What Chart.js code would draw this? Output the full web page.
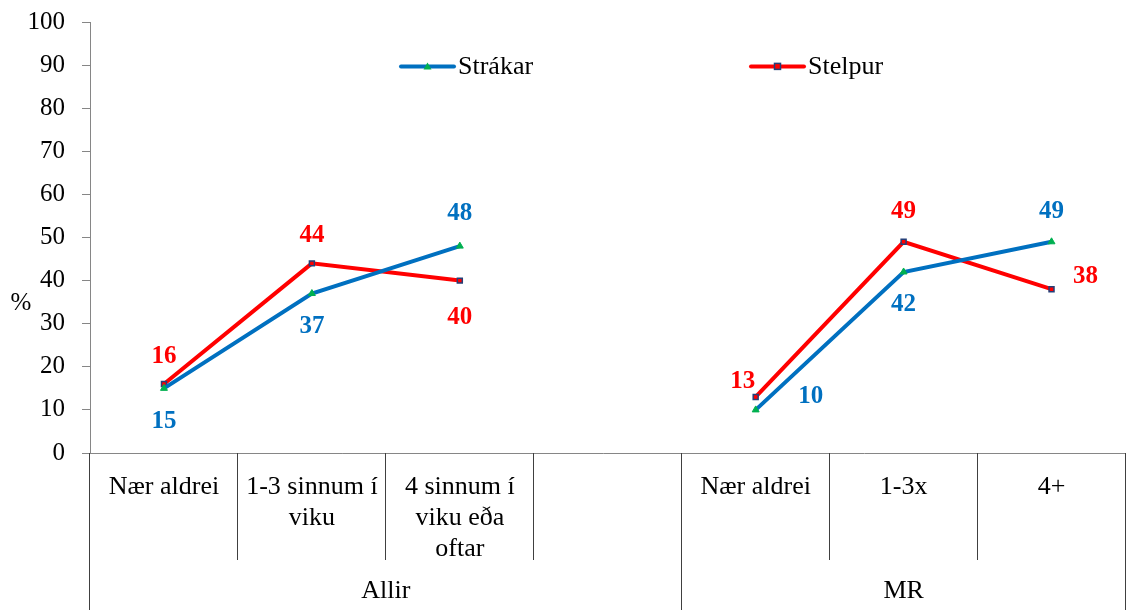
<!DOCTYPE html>
<html>
<head>
<meta charset="utf-8">
<script src="https://cdn.jsdelivr.net/npm/chart.js@4.4.1/dist/chart.umd.min.js"></script>
<style>
  html, body { margin: 0; padding: 0; background: #fff; overflow: hidden; }
  #wrap { width: 1127px; height: 610px; position: relative; overflow: hidden; }
  #c { display: block; }
</style>
</head>
<body>
<div id="wrap"><canvas id="c" width="1131" height="610"></canvas></div>
<script>
// Category labels (one entry per line of text under the axis)
const categories = [
  ['Nær aldrei'],
  ['1-3 sinnum í', 'viku'],
  ['4 sinnum í', 'viku eða', 'oftar'],
  [''],
  ['Nær aldrei'],
  ['1-3x'],
  ['4+']
];
// Outer grouping of the categories: [label, first index, last index]
const groups = [
  ['Allir', 0, 3],
  ['MR', 4, 6]
];
const yTicks = [0, 10, 20, 30, 40, 50, 60, 70, 80, 90, 100];

// Percentages per series (null = no value, breaks the line)
const strakar = [15, 37, 48, null, 10, 42, 49];
const stelpur = [16, 44, 40, null, 13, 49, 38];

// Where each value label sits relative to its point [dx, dy]
const strakarLabelOffset = [[0, 33], [0, 33], [0, -33], null, [55, -13], [0, 33], [0, -30]];
const stelpurLabelOffset = [[0, -27], [0, -28], [0, 37], null, [-13, -15], [0, -30], [34, -13]];

const SERIF = '"Liberation Serif", "Times New Roman", serif';
const BLUE = '#0070C0';
const RED = '#FF0000';
const GREEN = '#00B050';
const NAVY = '#243F78';
const VISIBLE_WIDTH = 1127;

const valueLabels = {
  id: 'valueLabels',
  afterDatasetsDraw(chart) {
    const ctx = chart.ctx;
    ctx.save();
    ctx.font = 'bold 25px ' + SERIF;
    ctx.textAlign = 'center';
    ctx.textBaseline = 'middle';
    chart.data.datasets.forEach((ds, di) => {
      const meta = chart.getDatasetMeta(di);
      meta.data.forEach((pt, i) => {
        const v = ds.data[i];
        if (v == null) return;
        const off = ds.labelOffset[i];
        ctx.fillStyle = ds.borderColor;
        ctx.fillText(String(v), pt.x + off[0], pt.y + off[1]);
      });
    });
    ctx.restore();
  }
};

const axisTable = {
  id: 'axisTable',
  afterDraw(chart) {
    const ctx = chart.ctx;
    const x = chart.scales.x;
    const area = chart.chartArea;
    const n = categories.length;
    const w = (area.right - area.left) / n;
    const bottom = area.bottom;
    const innerEnd = bottom + 107;
    const outerEnd = chart.height;
    const groupEdges = new Set();
    groups.forEach(g => { groupEdges.add(g[1]); groupEdges.add(g[2] + 1); });

    ctx.save();
    // horizontal axis line
    ctx.strokeStyle = '#868686';
    ctx.lineWidth = 1;
    ctx.beginPath();
    ctx.moveTo(area.left - 8, bottom + 0.5);
    ctx.lineTo(area.right, bottom + 0.5);
    ctx.stroke();

    // separators between categories
    ctx.strokeStyle = '#404040';
    for (let i = 0; i <= n; i++) {
      const px = Math.min(Math.round(area.left + i * w) - 0.5, VISIBLE_WIDTH - 1.5);
      ctx.beginPath();
      ctx.moveTo(px, bottom);
      ctx.lineTo(px, groupEdges.has(i) ? outerEnd : innerEnd);
      ctx.stroke();
    }

    // category labels
    ctx.fillStyle = '#000';
    ctx.font = '26px ' + SERIF;
    ctx.textAlign = 'center';
    ctx.textBaseline = 'middle';
    categories.forEach((lines, i) => {
      const cx = x.getPixelForValue(i);
      lines.forEach((t, li) => ctx.fillText(t, cx, bottom + 34 + li * 31));
    });

    // group labels
    groups.forEach(g => {
      const gx = (area.left + g[1] * w + area.left + (g[2] + 1) * w) / 2;
      ctx.fillText(g[0], gx, bottom + 138);
    });

    // y-axis unit
    ctx.font = '25px ' + SERIF;
    ctx.fillText('%', 21, chart.scales.y.getPixelForValue(34.8));

    // legend
    ctx.font = '26px ' + SERIF;
    ctx.textAlign = 'left';
    const legendY = chart.scales.y.getPixelForValue(89.7);
    const items = [
      { text: 'Strákar', color: BLUE, x0: 401 },
      { text: 'Stelpur', color: RED, x0: 751 }
    ];
    items.forEach((it, k) => {
      ctx.strokeStyle = it.color;
      ctx.lineWidth = 4;
      ctx.lineCap = 'round';
      ctx.beginPath();
      ctx.moveTo(it.x0, legendY);
      ctx.lineTo(it.x0 + 53, legendY);
      ctx.stroke();
      const mx = it.x0 + 26.5;
      if (k === 0) {
        ctx.fillStyle = GREEN;
        ctx.beginPath();
        ctx.moveTo(mx, legendY - 4);
        ctx.lineTo(mx + 4, legendY + 3);
        ctx.lineTo(mx - 4, legendY + 3);
        ctx.closePath();
        ctx.fill();
      } else {
        ctx.fillStyle = RED;
        ctx.strokeStyle = NAVY;
        ctx.lineWidth = 1.5;
        ctx.fillRect(mx - 3, legendY - 3, 6, 6);
        ctx.strokeRect(mx - 3, legendY - 3, 6, 6);
      }
      ctx.fillStyle = '#000';
      ctx.fillText(it.text, it.x0 + 57, legendY + 1);
    });
    ctx.restore();
  }
};

new Chart(document.getElementById('c'), {
  type: 'line',
  data: {
    labels: categories,
    datasets: [
      {
        label: 'Strákar',
        data: strakar,
        labelOffset: strakarLabelOffset,
        borderColor: BLUE,
        borderWidth: 4,
        pointStyle: 'triangle',
        pointRadius: 4,
        pointBackgroundColor: GREEN,
        pointBorderColor: GREEN,
        pointBorderWidth: 1,
        tension: 0,
        spanGaps: false
      },
      {
        label: 'Stelpur',
        data: stelpur,
        labelOffset: stelpurLabelOffset,
        borderColor: RED,
        borderWidth: 4,
        pointStyle: 'rect',
        pointRadius: 3.5,
        pointBackgroundColor: RED,
        pointBorderColor: NAVY,
        pointBorderWidth: 1.5,
        tension: 0,
        spanGaps: false
      }
    ]
  },
  options: {
    responsive: false,
    animation: false,
    events: [],
    layout: { padding: { top: 22, bottom: 157, left: 0, right: 0 } },
    plugins: {
      legend: { display: false },
      tooltip: { enabled: false }
    },
    scales: {
      x: {
        type: 'category',
        offset: true,
        display: false
      },
      y: {
        min: 0,
        max: 100,
        afterFit(scale) {
          scale.width = 90;
          // labels are offset sideways only; no extra room above or below
          scale.paddingTop = 0;
          scale.paddingBottom = 0;
        },
        afterBuildTicks(scale) { scale.ticks = yTicks.map(v => ({ value: v })); },
        grid: {
          drawOnChartArea: false,
          drawTicks: true,
          tickLength: 8,
          color: '#868686'
        },
        border: { display: true, color: '#868686', width: 1 },
        ticks: {
          color: '#000',
          padding: 17,
          font: { family: SERIF, size: 25 }
        }
      }
    }
  },
  plugins: [valueLabels, axisTable]
});
</script>
</body>
</html>
